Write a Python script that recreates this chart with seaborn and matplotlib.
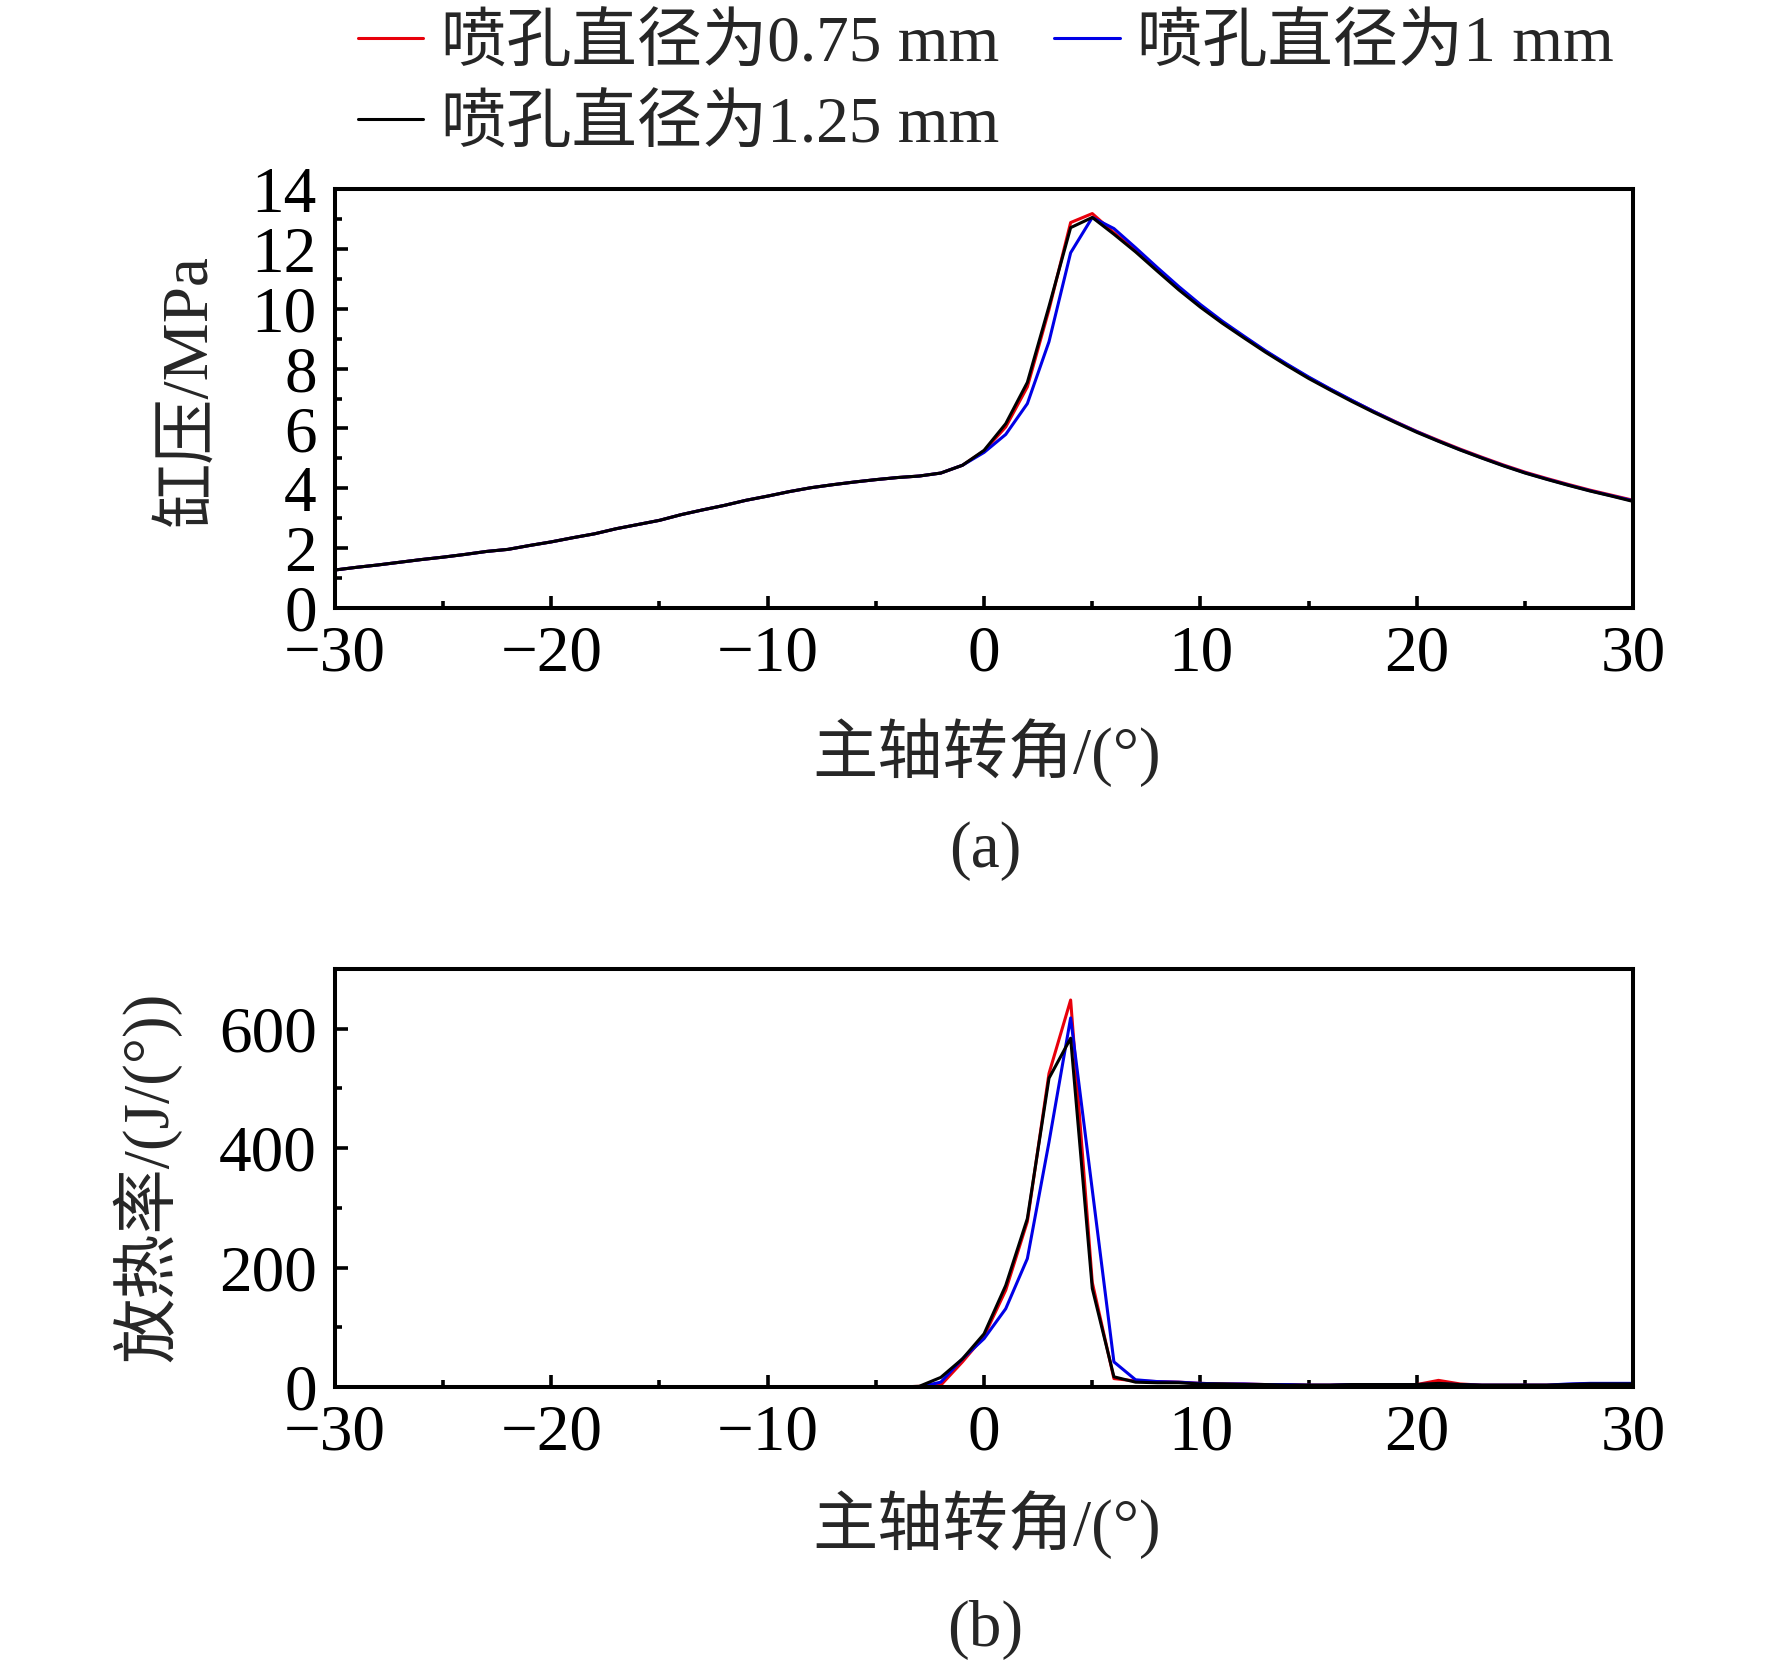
import numpy as np
import pandas as pd
import matplotlib
matplotlib.use("Agg")
import matplotlib.pyplot as plt
from matplotlib.ticker import MultipleLocator
from matplotlib.lines import Line2D
import seaborn as sns

# ---------------- data ----------------
angle = list(range(-30, 31))
series_names = ["喷孔直径为0.75 mm", "喷孔直径为1 mm", "喷孔直径为1.25 mm"]
series_colors = ["#e8000b", "#0000e6", "#000000"]

p_common = [1.27, 1.36, 1.44, 1.53, 1.62, 1.70, 1.79, 1.89, 1.96, 2.09,
            2.21, 2.35, 2.48, 2.65, 2.79, 2.93, 3.12, 3.28, 3.43, 3.60,
            3.74, 3.89, 4.02, 4.12, 4.21, 4.29, 4.36, 4.41, 4.51, 4.77]
p_075 = p_common + [5.25, 6.05, 7.39, 9.97, 12.88, 13.18, 12.54, 11.95, 11.30, 10.66,
                    10.08, 9.55, 9.06, 8.58, 8.13, 7.70, 7.31, 6.93, 6.57, 6.23,
                    5.90, 5.60, 5.31, 5.04, 4.78, 4.54, 4.33, 4.13, 3.94, 3.77, 3.60]
p_100 = p_common + [5.20, 5.80, 6.83, 8.90, 11.87, 13.05, 12.68, 12.04, 11.38, 10.74,
                    10.14, 9.59, 9.09, 8.60, 8.15, 7.72, 7.32, 6.94, 6.57, 6.22,
                    5.89, 5.58, 5.29, 5.02, 4.76, 4.52, 4.31, 4.11, 3.92, 3.75, 3.58]
p_125 = p_common + [5.27, 6.16, 7.54, 10.08, 12.71, 13.05, 12.49, 11.90, 11.26, 10.63,
                    10.05, 9.52, 9.03, 8.55, 8.10, 7.67, 7.28, 6.90, 6.54, 6.20,
                    5.87, 5.57, 5.28, 5.01, 4.75, 4.51, 4.30, 4.10, 3.91, 3.74, 3.56]

hr_zero = [0] * 27  # -30 .. -4
hr_075 = hr_zero + [1, 3, 42, 85, 162, 277, 525, 648, 175, 14,
                    10, 9, 8, 6, 5, 5, 4, 4, 3, 3,
                    4, 4, 4, 4, 11, 5, 3, 3, 3, 3,
                    4, 5, 5, 5]
hr_100 = hr_zero + [0, 8, 47, 81, 131, 215, 410, 618, 330, 42,
                    12, 9, 8, 6, 5, 5, 4, 4, 3, 3,
                    4, 4, 4, 4, 5, 4, 3, 3, 3, 3,
                    5, 6, 6, 6]
hr_125 = hr_zero + [1, 16, 47, 89, 170, 282, 517, 584, 165, 17,
                    8, 7, 7, 5, 5, 4, 4, 3, 3, 3,
                    4, 4, 4, 4, 6, 4, 3, 3, 3, 3,
                    4, 5, 5, 5]

x_label = "主轴转角/(°)"
ya_label = "缸压/MPa"
yb_label = "放热率/(J/(°))"

# ---------------- frames ----------------
def long_frame(vals):
    rows = []
    for name, v in zip(series_names, vals):
        rows.append(pd.DataFrame({"angle": angle, "value": v, "series": name}))
    return pd.concat(rows, ignore_index=True)

df_p = long_frame([p_075, p_100, p_125])
df_h = long_frame([hr_075, hr_100, hr_125])

# ---------------- style ----------------
sns.set_theme(style="ticks")
FAM = ["Liberation Serif", "Noto Sans CJK SC"]
plt.rcParams["font.family"] = FAM
plt.rcParams["axes.unicode_minus"] = True
FS = 47

fig = plt.figure(figsize=(17.72, 16.64), dpi=100)
ax_a = fig.add_axes([0.189, 0.6346, 0.7327, 0.2518])
ax_b = fig.add_axes([0.189, 0.1665, 0.7327, 0.2512])

palette = dict(zip(series_names, series_colors))

for ax, df in [(ax_a, df_p), (ax_b, df_h)]:
    sns.lineplot(data=df, x="angle", y="value", hue="series", hue_order=series_names,
                 palette=palette, linewidth=2.2, ax=ax, legend=False)
    ax.set_xlim(-30, 30)
    ax.xaxis.set_major_locator(MultipleLocator(10))
    ax.xaxis.set_minor_locator(MultipleLocator(5))
    for s in ax.spines.values():
        s.set_linewidth(2.9)
        s.set_color("black")
    ax.tick_params(which="both", direction="in", top=False, right=False,
                   labelsize=FS, width=2.6, color="black", labelcolor="black")
    ax.tick_params(which="major", length=9, pad=13)
    ax.tick_params(axis="x", which="major", pad=12)
    ax.tick_params(which="minor", length=5)
    ax.set_xlabel(x_label, fontsize=FS, family=FAM)
    ax.set_ylabel("")
    for lab in ax.get_xticklabels() + ax.get_yticklabels():
        lab.set_family(FAM)

ax_a.set_ylim(0, 14)
ax_a.yaxis.set_major_locator(MultipleLocator(2))
ax_a.yaxis.set_minor_locator(MultipleLocator(1))
ax_b.set_ylim(0, 700)
ax_b.yaxis.set_major_locator(MultipleLocator(200))
ax_b.yaxis.set_minor_locator(MultipleLocator(100))

ax_a.set_ylabel(ya_label, fontsize=FS, family=FAM)
ax_b.set_ylabel(yb_label, fontsize=FS, family=FAM)

ax_a.xaxis.set_label_coords(0.502, -0.346)
ax_a.xaxis.label.set_va("center")
ax_b.xaxis.set_label_coords(0.502, -0.330)
ax_b.xaxis.label.set_va("center")
ax_a.yaxis.set_label_coords(-0.112, 0.52)
ax_a.yaxis.label.set_va("center")
ax_b.yaxis.set_label_coords(-0.1448, 0.502)
ax_b.yaxis.label.set_va("center")

fig.text(0.556, 1 - 851 / 1664, "(a)", fontsize=FS, family=FAM, ha="center", va="center")
fig.text(0.556, 1 - 1630 / 1664, "(b)", fontsize=FS, family=FAM, ha="center", va="center")

# legend: row1 red, blue ; row2 black
handles = [Line2D([], [], color=c, linewidth=2.2) for c in series_colors]
order = [0, 2, 1]
fig.legend([handles[i] for i in order], [series_names[i] for i in order],
           ncol=2, loc="upper left", bbox_to_anchor=(0.2, 0.993),
           frameon=False, prop={"family": FAM, "size": FS},
           handlelength=1.0, handletextpad=0.27, columnspacing=0.85,
           labelspacing=0.32, borderpad=0.05, borderaxespad=0.0)

fig.savefig("out.png", dpi=100, facecolor="white")
